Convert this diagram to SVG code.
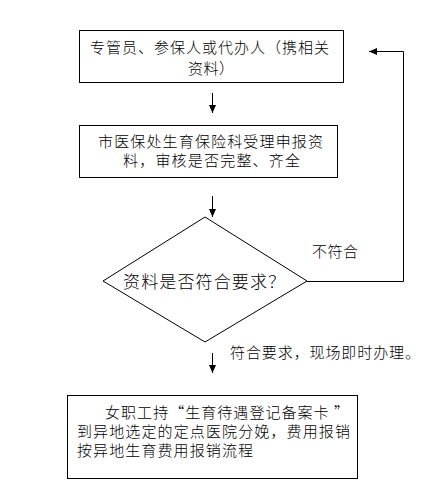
<svg xmlns="http://www.w3.org/2000/svg" width="448" height="501" viewBox="0 0 448 501">
<style>
.box{fill:#fff;stroke:#000;stroke-width:1}
.t{font-family:"Noto Sans CJK SC","Liberation Sans",sans-serif;font-size:15px;font-weight:300;fill:#000}
.tl{font-family:"Noto Sans CJK SC","Liberation Sans",sans-serif;font-size:17px;font-weight:300;fill:#000}
.c{fill:none;stroke:#000;stroke-width:1}
</style>
<defs>
<marker id="ah" markerUnits="userSpaceOnUse" markerWidth="9" markerHeight="7" refX="8" refY="3.5" orient="auto">
<path d="M0,0 L8,3.5 L0,7 z" fill="#000"/>
</marker>
</defs>
<rect width="448" height="501" fill="#fff"/>
<g id="connectors">
<line class="c" x1="212.5" y1="93" x2="212.5" y2="113" marker-end="url(#ah)"/>
<line class="c" x1="212.5" y1="196" x2="212.5" y2="217" marker-end="url(#ah)"/>
<line class="c" x1="212.5" y1="353" x2="212.5" y2="373" marker-end="url(#ah)"/>
<polyline class="c" points="307,281.5 403.5,281.5 403.5,51.5 369,51.5" marker-end="url(#ah)"/>
</g>
<g id="n1">
<rect class="box" x="79.5" y="30.5" width="264" height="52"/>
<text class="t" x="90" y="53" textLength="239" lengthAdjust="spacing">专管员、参保人或代办人（携相关</text>
<text class="t" x="188" y="74" textLength="46" lengthAdjust="spacing">资料）</text>
</g>
<g id="n2">
<rect class="box" x="79.5" y="125.5" width="258" height="52"/>
<text class="t" x="98" y="147" textLength="225" lengthAdjust="spacing">市医保处生育保险科受理申报资</text>
<text class="t" x="123" y="166" textLength="177" lengthAdjust="spacing">料，审核是否完整、齐全</text>
</g>
<g id="n3">
<polygon class="c" points="205,217 307,281 205,342 103,281"/>
<text class="tl" x="123" y="288" textLength="162" lengthAdjust="spacing">资料是否符合要求？</text>
</g>
<g id="labels">
<text class="t" x="312" y="257" textLength="46" lengthAdjust="spacing">不符合</text>
<text class="t" x="230" y="358" textLength="190" lengthAdjust="spacing">符合要求，现场即时办理。</text>
</g>
<g id="n4">
<rect class="box" x="67.5" y="395.5" width="290" height="83"/>
<text class="t" x="105" y="418" textLength="244" lengthAdjust="spacing">女职工持“生育待遇登记备案卡 ”</text>
<text class="t" x="77" y="437" textLength="273" lengthAdjust="spacing">到异地选定的定点医院分娩，费用报销</text>
<text class="t" x="77" y="456" textLength="176" lengthAdjust="spacing">按异地生育费用报销流程</text>
</g>
</svg>
